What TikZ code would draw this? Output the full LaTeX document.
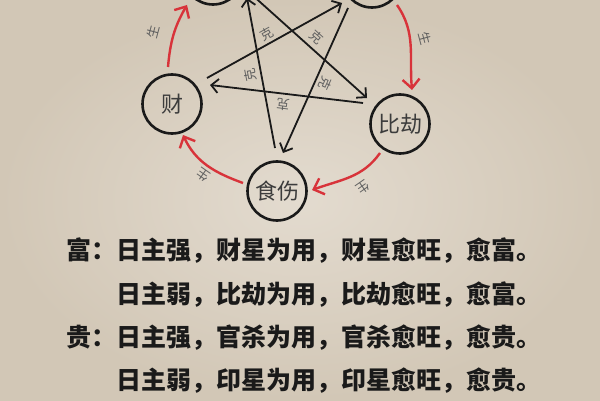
\documentclass[tikz,border=0pt]{standalone}
\usepackage{fontspec}
\newfontfamily\cjk{Noto Sans CJK SC}
\usetikzlibrary{arrows.meta,calc}
\definecolor{paperlight}{HTML}{E3DBCF}
\definecolor{paperdark}{HTML}{D2C7B6}
\definecolor{ink}{HTML}{1A1A1A}
\definecolor{redarc}{HTML}{D8333A}
\tikzset{
  elem/.style={circle, draw=ink, line width=2.6pt, minimum size=59pt, inner sep=0pt,
    font=\cjk\fontsize{22}{22}\selectfont, text=ink!85},
  ke/.style={draw=ink, line width=1.8pt, -{Straight Barb[length=7pt,width=14pt,line width=1.8pt]}},
  sheng/.style={draw=redarc, line width=2.4pt, -{Straight Barb[length=9pt,width=17pt,line width=2.4pt]}},
  smalllabel/.style={font=\cjk\fontsize{13}{13}\selectfont, text=ink!70, inner sep=0pt},
  ruleline/.style={font=\cjk\bfseries\fontsize{25}{25}\selectfont, text=ink, anchor=west, inner sep=0pt},
}
\begin{document}
\begin{tikzpicture}[x=1pt,y=1pt]
\useasboundingbox (0,0) rectangle (600,400);
\clip (0,0) rectangle (600,400);
\shade[inner color=paperlight, outer color=paperdark] (0,0) rectangle (600,400);

% element circles
\node[elem] (TL) at (213,425) {};
\node[elem] (TR) at (372,422) {};
\node[elem] (R) at (400,276) {比劫};
\node[elem] (B) at (277,209) {食伤};
\node[elem] (L) at (172,296) {财};

% ke star
\draw[ke] ($(R)+(-37,21)$) -- ($(L)+(38,19)$);
\draw[ke] ($(L)+(35,26)$) -- ($(TR)+(-30,-25)$);
\draw[ke] ($(TR)+(-24,-30)$) -- ($(B)+(6,38)$);
\draw[ke] ($(B)+(-2,43)$) -- ($(TL)+(34,-23)$);
\draw[ke] ($(TL)+(37,-18)$) -- ($(R)+(-33,26)$);

\node[smalllabel, rotate=29] (k1) at (267,366) {克};
\node[smalllabel, rotate=-42] (k2) at (317,363) {克};
\node[smalllabel, rotate=101] (k3) at (250,325) {克};
\node[smalllabel, rotate=-114] (k4) at (325,317) {克};
\node[smalllabel, rotate=173] (k5) at (283,295) {克};

% sheng cycle
\draw[sheng] ($(L)+(-4,37)$) to[out=85,in=240] ($(TL)+(-26,-30)$);
\draw[sheng] ($(TR)+(25,-27)$) to[out=-55,in=95] ($(R)+(12,34)$);
\draw[sheng] ($(R)+(-20,-29)$) to[out=235,in=20] ($(B)+(35,1)$);
\draw[sheng] ($(B)+(-34,8)$) to[out=160,in=-65] ($(L)+(11,-31)$);

\node[smalllabel, rotate=75] (s1) at (153,368) {生};
\node[smalllabel, rotate=-75] (s2) at (425,362) {生};
\node[smalllabel, rotate=-145] (s3) at (363,213) {生};
\node[smalllabel, rotate=145] (s4) at (203,225) {生};

% text
\node[ruleline] (t1) at (66,149) {富：日主强，财星为用，财星愈旺，愈富。};
\node[ruleline] (t2) at (116,105) {日主弱，比劫为用，比劫愈旺，愈富。};
\node[ruleline] (t3) at (66,62) {贵：日主强，官杀为用，官杀愈旺，愈贵。};
\node[ruleline] (t4) at (116,19) {日主弱，印星为用，印星愈旺，愈贵。};
\end{tikzpicture}
\end{document}
